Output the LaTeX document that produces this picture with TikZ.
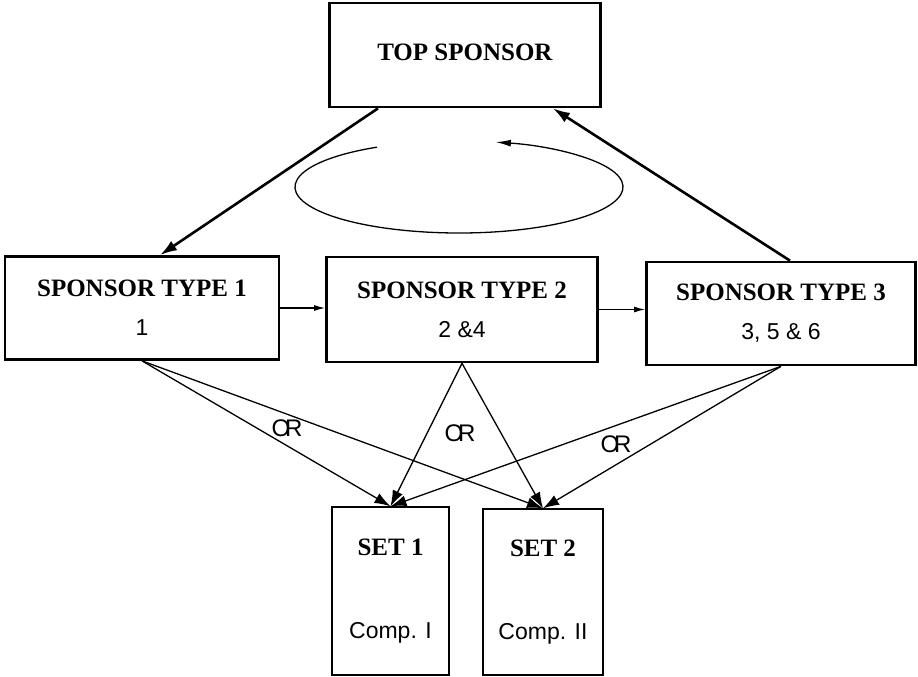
\documentclass[tikz,border=0pt]{standalone}
\usepackage{fontspec}
\setmainfont{Liberation Serif}
\setsansfont{Liberation Sans}
\usetikzlibrary{arrows.meta,calc}
\newcommand{\boxnum}[1]{{\sffamily\fontsize{23}{28}\selectfont #1}}
\newcommand{\ortext}{O\kern-5pt R}

\begin{document}
\begin{tikzpicture}[x=1pt, y=1pt,
    font=\fontsize{25}{30}\selectfont,
    sponsor/.style={draw, line width=2.7pt, minimum width=270pt, minimum height=103pt,
      inner sep=0pt, align=center},
    setbox/.style={draw, line width=1.4pt, minimum width=117pt, minimum height=166pt,
      inner sep=0pt, align=center},
    orlabel/.style={font=\sffamily\fontsize{24}{28}\selectfont, inner sep=1pt},
    choice/.style={line width=1.3pt, -{Latex[length=16pt,width=11pt]}},
    bigarrow/.style={line width=2.6pt, -{Latex[length=17pt,width=11pt]}},
    link/.style={line width=1.3pt, -{Latex[length=11pt,width=6pt]}},
    loopline/.style={line width=1.3pt, -{Latex[length=15pt,width=7pt]}}
  ]
    \useasboundingbox (0,0) rectangle (918,-677);

    \node[sponsor, minimum width=271pt, minimum height=104pt] (top) at (465,-55) {\raisebox{5pt}{\textbf{TOP SPONSOR}}};
    \node[sponsor, minimum width=274pt] (t1) at (142,-308) {\textbf{SPONSOR TYPE 1}\\[9pt]\boxnum{1}};
    \node[sponsor, minimum width=271pt, minimum height=105pt] (t2) at (462,-309.5) {\textbf{SPONSOR TYPE 2}\\[9pt]\boxnum{2 \&4}};
    \node[sponsor, minimum width=269pt] (t3) at (781,-313.5) {\textbf{SPONSOR TYPE 3}\\[9pt]\boxnum{3, 5 \& 6}};
    \node[setbox, minimum height=168pt] (set1) at (390.5,-591) {\textbf{SET 1}\\[53pt]\boxnum{Comp. I}};
    \node[setbox, minimum width=120pt] (set2) at (543,-592) {\textbf{SET 2}\\[53pt]\boxnum{Comp. II}};

    \node[orlabel] (or1) at (287,-428) {\ortext};
    \node[orlabel] (or2) at (460,-433) {\ortext};
    \node[orlabel] (or3) at (616,-444) {\ortext};

    \coordinate (loop) at (459,-187);
    \draw[loopline] ($(loop)+(120:164 and 46)$) arc[start angle=120, end angle=437, x radius=164, y radius=46];

    \draw[bigarrow] ([xshift=-87pt]top.south) -- ([xshift=18pt]t1.north);
    \draw[bigarrow] ([xshift=9pt]t3.north) -- ([xshift=88pt]top.south);
    \draw[link] (t1.east) -- (t1.east -| t2.west);
    \draw[link] (t2.east) -- (t2.east -| t3.west);
    \foreach \src in {t1,t2,t3}
      \foreach \dst in {set1,set2}
        \draw[choice] (\src.south) -- (\dst.north);
  \end{tikzpicture}
\end{document}
